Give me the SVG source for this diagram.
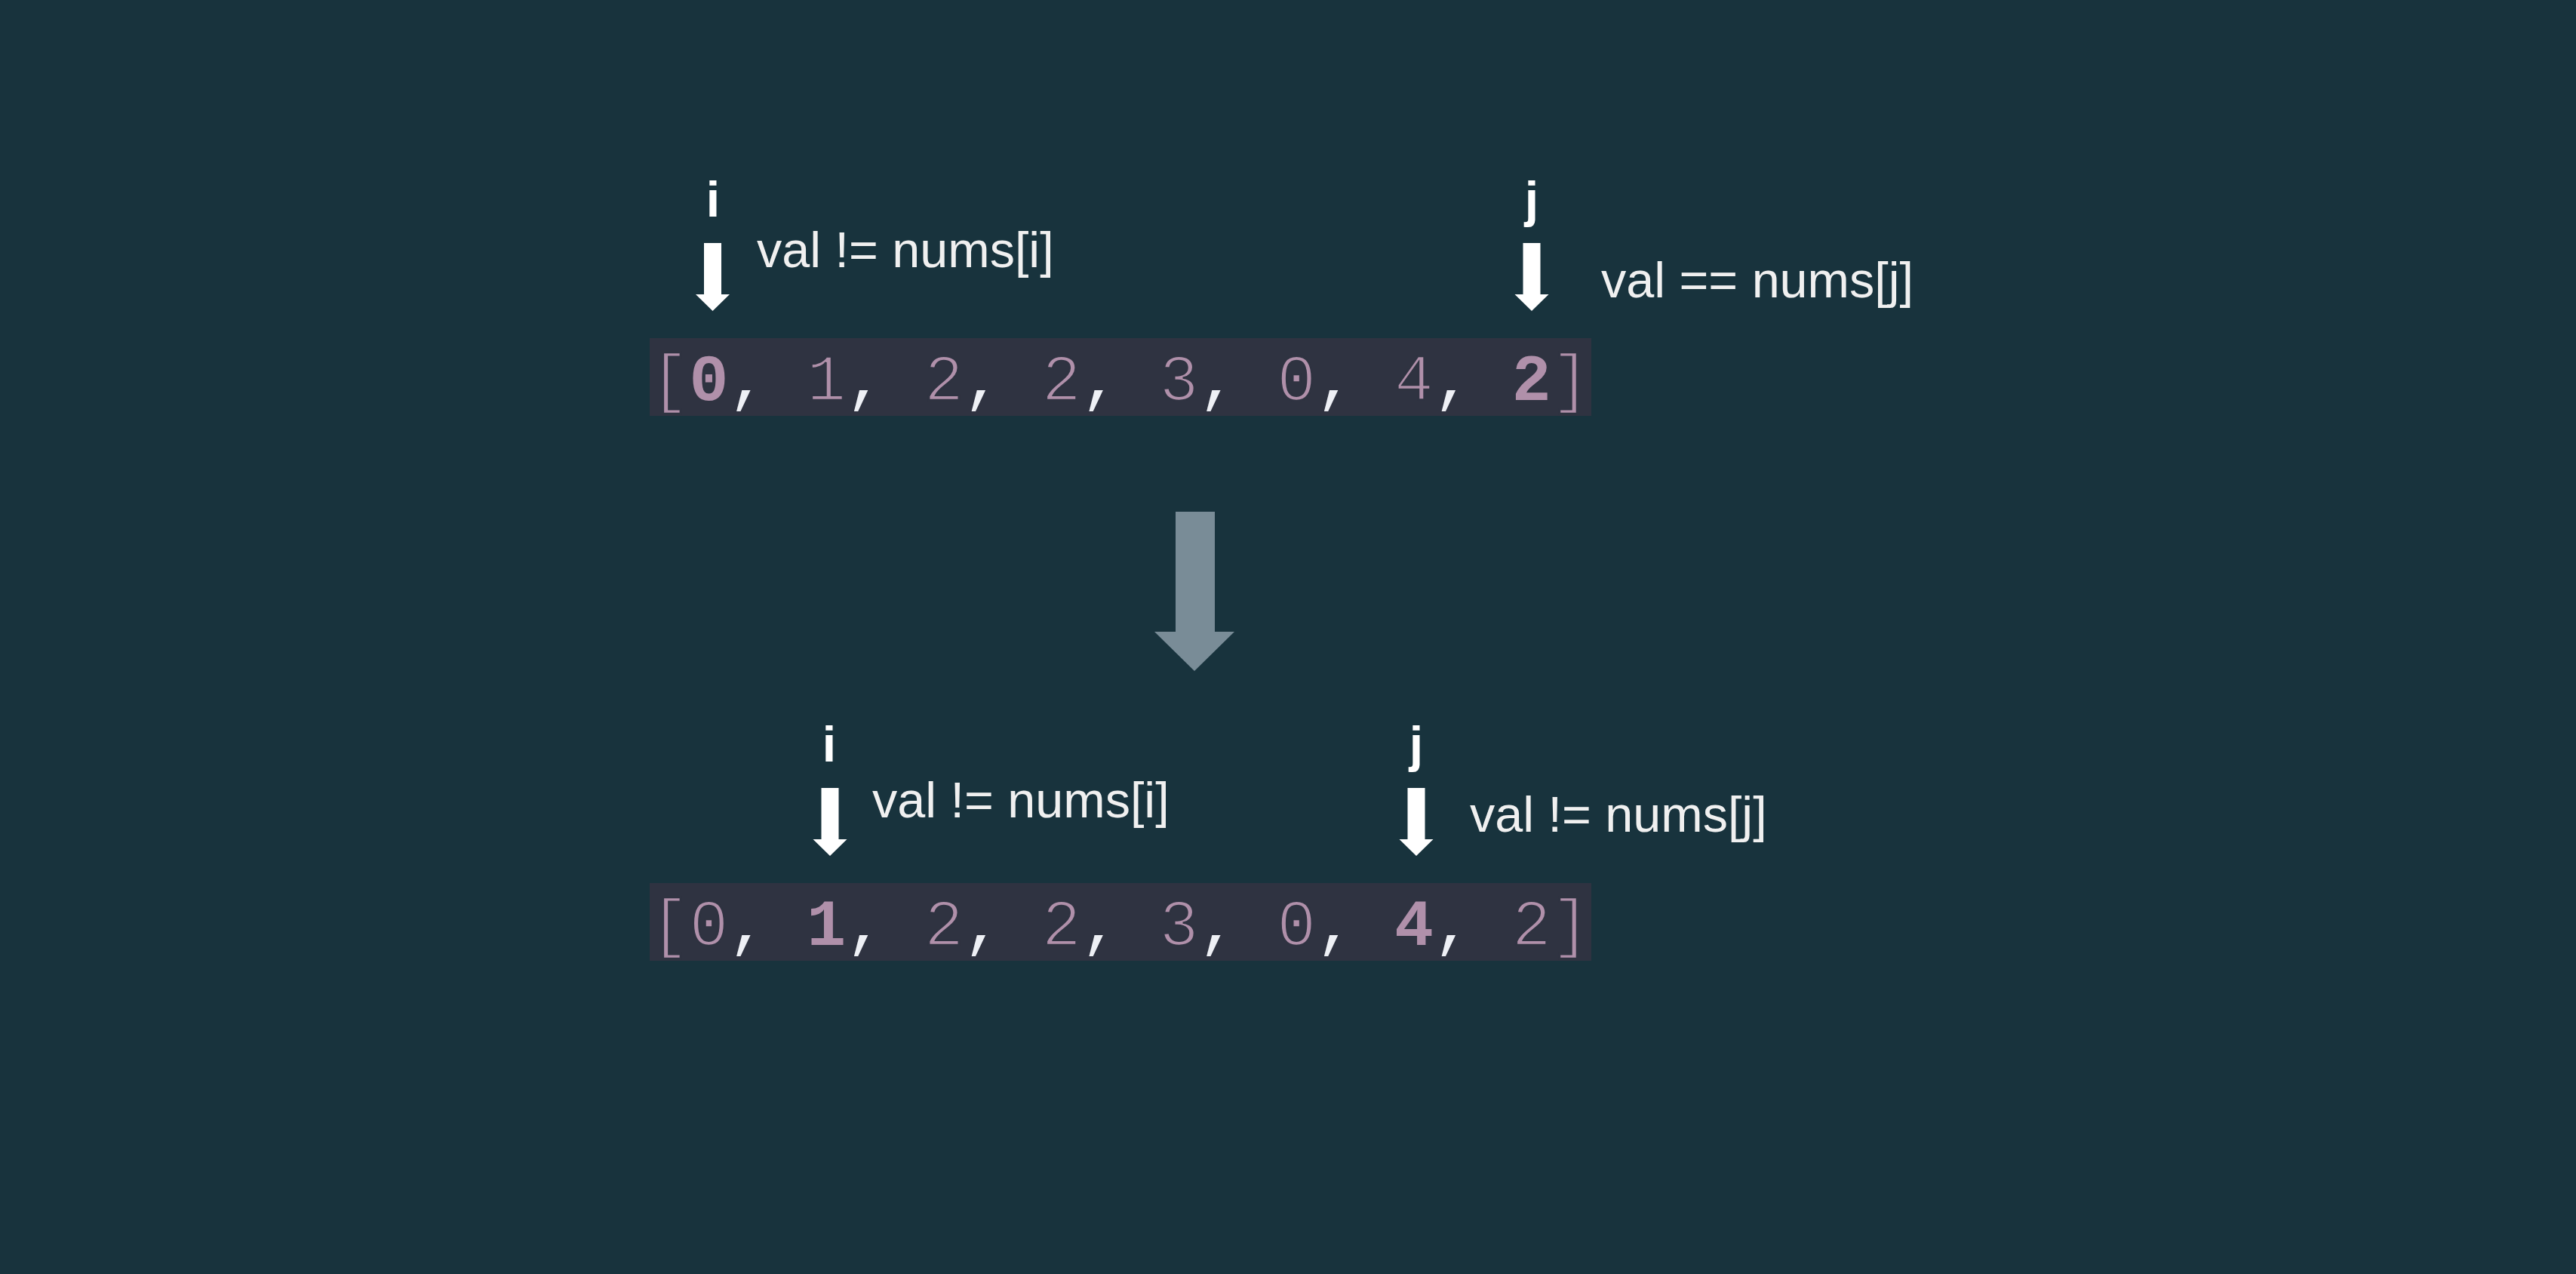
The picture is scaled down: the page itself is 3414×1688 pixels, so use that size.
<svg xmlns="http://www.w3.org/2000/svg" xmlns:xlink="http://www.w3.org/1999/xlink" width="3414" height="1688" viewBox="0 0 3414 1688">
  <style>
    .lbl { font-family: "Liberation Sans", Arial, sans-serif; font-size: 66.5px; fill: #f0f0f0; }
    .ptr { font-family: "Liberation Sans", Arial, sans-serif; font-size: 66px; font-weight: bold; fill: #ffffff; text-anchor: middle; }
    .arr { font-family: "Liberation Mono", "Courier New", monospace; font-size: 86.5px; fill: #b090aa; white-space: pre; stroke: #2f3341; stroke-width: 2.6px; }
    .arr .c { fill: #eef0f5; stroke: none; }
    .arr .b { font-weight: bold; stroke: none; }
    .box { fill: #2f3341; }
  </style>
  <defs>
    <path id="ptrArrow" d="M -11.5 0 L 11.5 0 L 11.5 68 L 22.5 68 L 0 90 L -22.5 68 L -11.5 68 Z" fill="#ffffff"/>
  </defs>
  <rect x="0" y="0" width="3414" height="1688" fill="#18333d"/>

  <g id="array-before">
    <rect class="box" x="861" y="448" width="1248" height="103"/>
    <text class="arr" x="861.5" y="530">[<tspan class="b">0</tspan><tspan class="c">,</tspan> 1<tspan class="c">,</tspan> 2<tspan class="c">,</tspan> 2<tspan class="c">,</tspan> 3<tspan class="c">,</tspan> 0<tspan class="c">,</tspan> 4<tspan class="c">,</tspan> <tspan class="b">2</tspan>]</text>
  </g>

  <g id="pointer-i-before">
    <text class="ptr" x="945" y="287">i</text>
    <use xlink:href="#ptrArrow" href="#ptrArrow" x="944.5" y="322"/>
    <text class="lbl" x="1003" y="354">val != nums[i]</text>
  </g>

  <g id="pointer-j-before">
    <text class="ptr" x="2030" y="287">j</text>
    <use xlink:href="#ptrArrow" href="#ptrArrow" x="2030" y="322"/>
    <text class="lbl" x="2122" y="394">val == nums[j]</text>
  </g>

  <g id="connectors">
    <path d="M 1558 678 L 1610 678 L 1610 837 L 1636 837 L 1583 889 L 1530 837 L 1558 837 Z" fill="#798c97"/>
  </g>

  <g id="array-after">
    <rect class="box" x="861" y="1170" width="1248" height="103"/>
    <text class="arr" x="861.5" y="1252">[0<tspan class="c">,</tspan> <tspan class="b">1</tspan><tspan class="c">,</tspan> 2<tspan class="c">,</tspan> 2<tspan class="c">,</tspan> 3<tspan class="c">,</tspan> 0<tspan class="c">,</tspan> <tspan class="b">4</tspan><tspan class="c">,</tspan> 2]</text>
  </g>

  <g id="pointer-i-after">
    <text class="ptr" x="1099" y="1009">i</text>
    <use xlink:href="#ptrArrow" href="#ptrArrow" x="1100" y="1044"/>
    <text class="lbl" x="1156" y="1083">val != nums[i]</text>
  </g>

  <g id="pointer-j-after">
    <text class="ptr" x="1877" y="1009">j</text>
    <use xlink:href="#ptrArrow" href="#ptrArrow" x="1877" y="1044"/>
    <text class="lbl" x="1948" y="1102">val != nums[j]</text>
  </g>
</svg>
